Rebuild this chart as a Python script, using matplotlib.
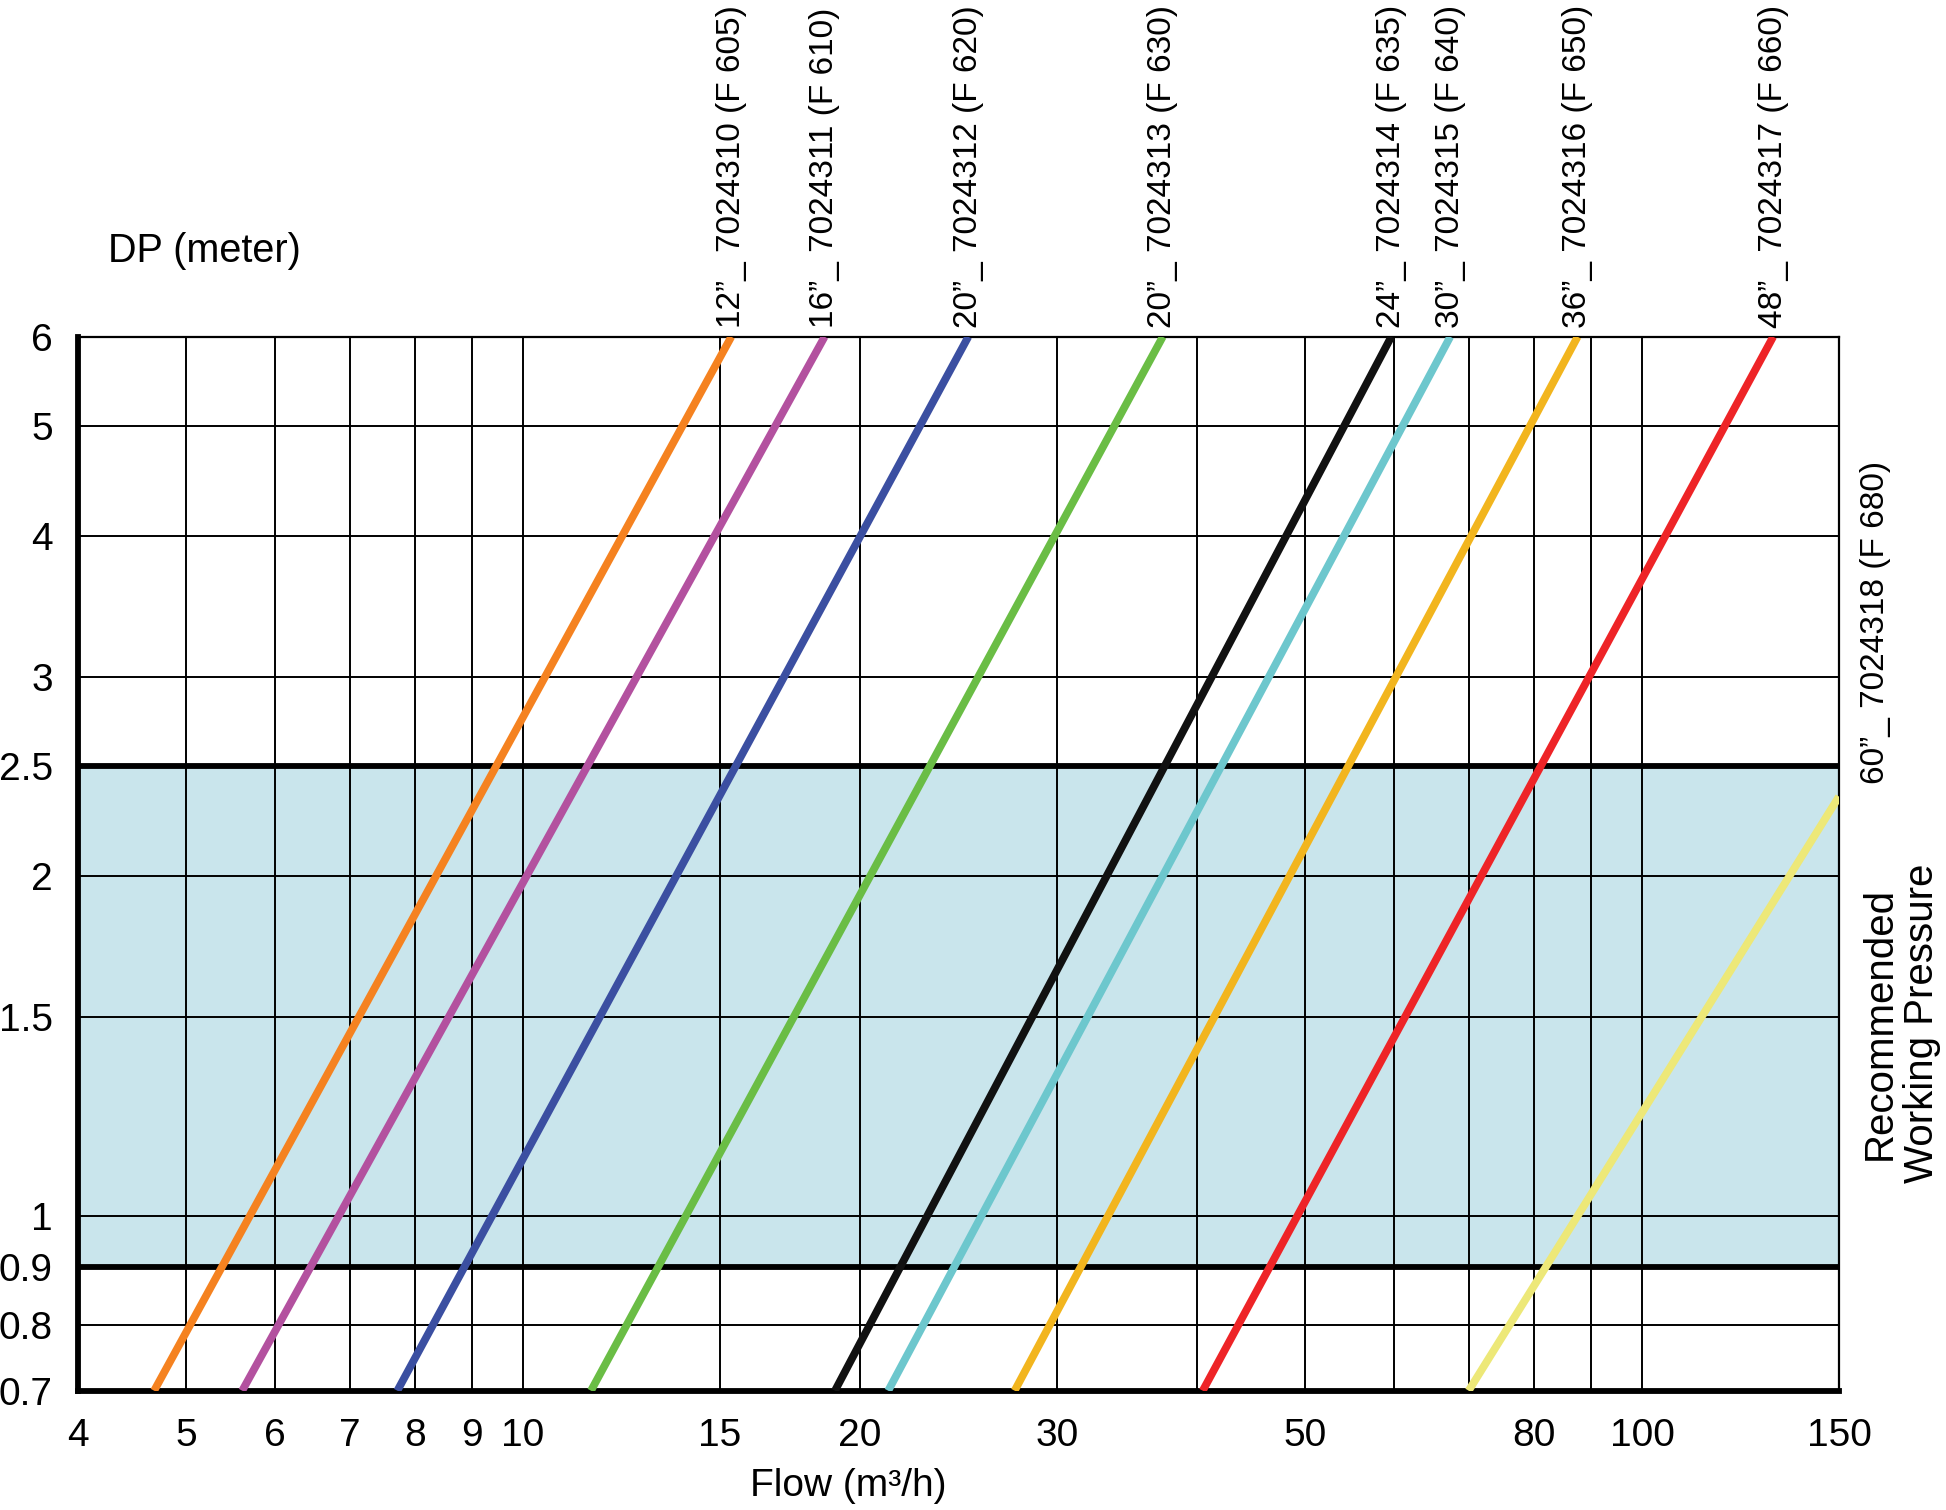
import matplotlib
matplotlib.use("Agg")
import matplotlib.pyplot as plt
from matplotlib.ticker import FixedLocator, FixedFormatter, NullLocator

plt.rcParams['font.family'] = ['Liberation Sans', 'DejaVu Sans']

# ---- data ----
sizes = ['12”', '16”', '20”', '20”', '24”', '30”', '36”', '48”', '60”']
codes = ['7024310', '7024311', '7024312', '7024313', '7024314',
         '7024315', '7024316', '7024317', '7024318']
models = ['F 605', 'F 610', 'F 620', 'F 630', 'F 635',
          'F 640', 'F 650', 'F 660', 'F 680']
flow_start = [4.68, 5.61, 7.72, 11.5, 19.0, 21.2, 27.5, 40.5, 70.0]
dp_start = [0.7, 0.7, 0.7, 0.7, 0.7, 0.7, 0.7, 0.7, 0.7]
flow_end = [15.35, 18.6, 25.0, 37.3, 59.7, 67.4, 87.6, 131.0, 150.0]
dp_end = [6.0, 6.0, 6.0, 6.0, 6.0, 6.0, 6.0, 6.0, 2.35]
colors = ['#F58220', '#B3519F', '#3B4FA1', '#6ABD45', '#111111',
          '#6DC7CD', '#F2B51E', '#EE2427', '#EDE878']

x_grid = [4, 5, 6, 7, 8, 9, 10, 15, 20, 30, 40, 50, 60, 70, 80, 90, 100, 150]
x_labels = ['4', '5', '6', '7', '8', '9', '10', '15', '20', '30', '', '50',
            '', '', '80', '', '100', '150']
y_grid = [0.7, 0.8, 0.9, 1, 1.5, 2, 2.5, 3, 4, 5, 6]
y_labels = ['0.7', '0.8', '0.9', '1', '1.5', '2', '2.5', '3', '4', '5', '6']
band = [0.9, 2.5]

# ---- figure ----
fig = plt.figure(figsize=(19.46, 15.10), dpi=100)
ax = fig.add_axes([0.040, 0.079, 0.905, 0.698])
ax.set_xscale('log')
ax.set_yscale('log')
ax.set_xlim(4, 150)
ax.set_ylim(0.7, 6)

ax.axhspan(band[0], band[1], color='#C9E5EC', zorder=0, lw=0)

ax.xaxis.set_major_locator(FixedLocator(x_grid))
ax.xaxis.set_major_formatter(FixedFormatter(x_labels))
ax.xaxis.set_minor_locator(NullLocator())
ax.yaxis.set_major_locator(FixedLocator(y_grid))
ax.yaxis.set_major_formatter(FixedFormatter(y_labels))
ax.yaxis.set_minor_locator(NullLocator())
ax.grid(True, which='major', color='black', lw=1.4, zorder=1)
ax.set_axisbelow(True)
ax.tick_params(axis='x', length=0, pad=20, labelsize=28)
ax.tick_params(axis='y', length=0, pad=18, labelsize=28)

for b in band:
    ax.axhline(b, color='black', lw=4.2, zorder=2)

for s in ['left', 'bottom']:
    ax.spines[s].set_linewidth(4.2)
for s in ['top', 'right']:
    ax.spines[s].set_linewidth(1.6)

for i in range(len(sizes)):
    ax.plot([flow_start[i], flow_end[i]], [dp_start[i], dp_end[i]],
            color=colors[i], lw=5.6, solid_capstyle='butt', zorder=3)
    label = f'{sizes[i]}_ {codes[i]} ({models[i]})'
    if dp_end[i] >= 6.0:
        ax.annotate(label, xy=(flow_end[i], dp_end[i]), xytext=(0, 6),
                    textcoords='offset points', rotation=90,
                    ha='center', va='bottom', fontsize=24,
                    annotation_clip=False)
    else:
        ax.annotate(label, xy=(flow_end[i], dp_end[i]), xytext=(26, 9),
                    textcoords='offset points', rotation=90,
                    ha='center', va='bottom', fontsize=24,
                    annotation_clip=False)

fig.text(0.0555, 0.834, 'DP (meter)', ha='left', va='center', fontsize=28.5)
fig.text(0.436, 0.016, 'Flow (m³/h)', ha='center', va='center', fontsize=28)
fig.text(0.977, 0.322, 'Recommended\nWorking Pressure', rotation=90,
         ha='center', va='center', multialignment='center',
         fontsize=29, linespacing=1.15)

fig.savefig('out.png', dpi=100)
